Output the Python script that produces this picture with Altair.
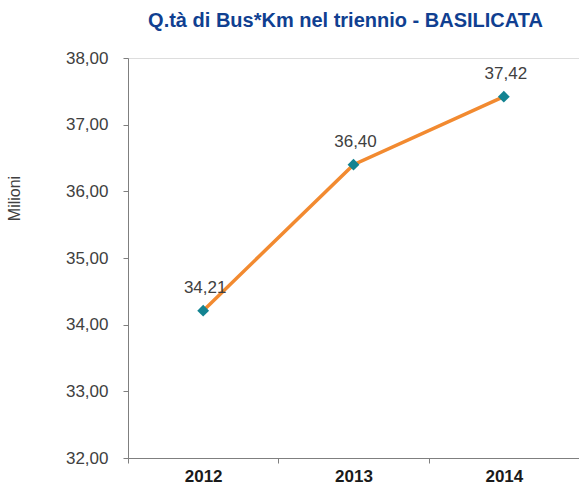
import altair as alt
import pandas as pd

years = ["2012", "2013", "2014"]
values = [34.21, 36.40, 37.42]
labels = ["34,21", "36,40", "37,42"]
y_ticks = [32, 33, 34, 35, 36, 37, 38]

df = pd.DataFrame({"anno": years, "valore": values, "etichetta": labels})

FONT = "Liberation Sans"
TXT = "#404040"

x_enc = alt.X("anno:N", sort=years,
              scale=alt.Scale(paddingInner=0, paddingOuter=0),
              axis=alt.Axis(title=None, labelAngle=0, labelFont=FONT, labelFontSize=17,
                            labelFontWeight="bold", labelColor="#1a1a1a", labelPadding=5,
                            tickBand="extent", tickSize=5, tickColor="#7f7f7f",
                            domainColor="#7f7f7f", grid=False))
y_enc = alt.Y("valore:Q",
              scale=alt.Scale(domain=[32, 38], nice=False, zero=False),
              axis=alt.Axis(values=y_ticks, title="Milioni", titleFont=FONT, titleFontSize=16,
                            titleFontWeight="normal", titleColor=TXT, titleAngle=-90,
                            titleX=-114, titleY=140, titleAlign="center", titleBaseline="middle",
                            labelFont=FONT, labelFontSize=17, labelColor=TXT, labelPadding=15,
                            labelExpr="replace(format(datum.value, '.2f'), '.', ',')",
                            tickSize=5, tickColor="#7f7f7f", domainColor="#7f7f7f", grid=False))

base = alt.Chart(df).encode(x=x_enc, y=y_enc)

line = base.mark_line(color="#F28A30", strokeWidth=3.5)
pts = base.mark_point(shape="diamond", filled=True, size=140, color="#138391", opacity=1)
txt = base.mark_text(font=FONT, fontSize=17, color=TXT, dy=-23, dx=2,
                     baseline="middle").encode(text="etichetta:N")

chart = (line + pts + txt).properties(
    width=451, height=400,
    autosize=alt.AutoSizeParams(type="none"),
    padding={"left": 128, "top": 58, "right": 0, "bottom": 30},
    title=alt.TitleParams("Q.tà di Bus*Km nel triennio - BASILICATA", font=FONT, fontSize=20,
                          fontWeight="bold", color="#103F91", anchor="middle", dx=-8, offset=18),
).configure_view(stroke=None).configure(background="white")

chart.save("out.html", embed_options={"renderer": "svg", "actions": False})
